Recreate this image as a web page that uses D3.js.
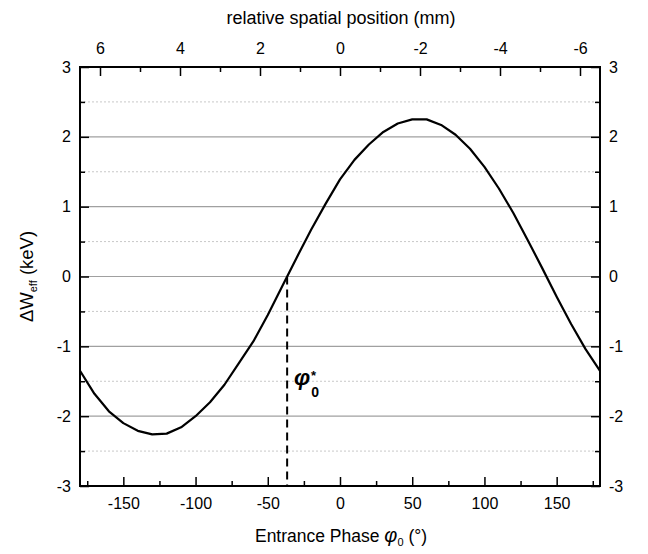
<!DOCTYPE html>
<html>
<head>
<meta charset="utf-8">
<script src="https://cdn.jsdelivr.net/npm/d3@7"></script>
<style>
  html, body { margin: 0; padding: 0; background: #fff; }
  svg { display: block; font-family: "Liberation Sans", Arial, sans-serif; }
</style>
</head>
<body>
<svg id="chart" width="648" height="554"></svg>
<script>
// ---- data ----
const phase = [-180,-170,-160,-150,-140,-130,-120,-110,-100,-90,-80,-70,-60,-50,-40,-30,-20,-10,0,10,20,30,40,50,60,70,80,90,100,110,120,130,140,150,160,170,180];
const deltaW = [-1.35,-1.68,-1.93,-2.10,-2.21,-2.26,-2.25,-2.16,-2.00,-1.80,-1.55,-1.24,-0.93,-0.55,-0.14,0.27,0.67,1.04,1.39,1.67,1.89,2.07,2.19,2.25,2.25,2.17,2.03,1.83,1.57,1.26,0.91,0.52,0.12,-0.29,-0.68,-1.04,-1.35];
const phi0Star = -36.6;
const xTicks = [-150,-100,-50,0,50,100,150];
const xMinorTicks = [-175,-125,-75,-25,25,75,125,175];
const yTicks = [-3,-2,-1,0,1,2,3];
const yMinorTicks = [-2.5,-1.5,-0.5,0.5,1.5,2.5];
const topTicks = [6,4,2,0,-2,-4,-6];
const topMinorTicks = [5,3,1,-1,-3,-5];
const gridMajor = [-2,-1,0,1,2];
const gridMinor = [-2.5,-1.5,-0.5,0.5,1.5,2.5];

// ---- layout ----
const L = 80, R = 600, T = 67, B = 486;
const svg = d3.select("#chart");
const x = d3.scaleLinear().domain([-180,180]).range([L,R]);
const xTop = d3.scaleLinear().domain([6.5,-6.5]).range([L,R]);
const y = d3.scaleLinear().domain([-3,3]).range([B,T]);

// grid
svg.append("g").selectAll("line").data(gridMinor).join("line")
  .attr("x1",L).attr("x2",R).attr("y1",d=>y(d)).attr("y2",d=>y(d))
  .attr("stroke","#c8c8c8").attr("stroke-width",1).attr("stroke-dasharray","2,2");
svg.append("g").selectAll("line").data(gridMajor).join("line")
  .attr("x1",L).attr("x2",R).attr("y1",d=>y(d)).attr("y2",d=>y(d))
  .attr("stroke","#a0a0a0").attr("stroke-width",1.2);

// curve
const line = d3.line().x((d,i)=>x(phase[i])).y(d=>y(d));
svg.append("path").datum(deltaW).attr("d",line)
  .attr("fill","none").attr("stroke","#000").attr("stroke-width",2.2).attr("stroke-linejoin","round");

// dashed marker
svg.append("line")
  .attr("x1",x(phi0Star)).attr("x2",x(phi0Star)).attr("y1",y(0)).attr("y2",y(-3))
  .attr("stroke","#000").attr("stroke-width",2).attr("stroke-dasharray","8,5");

// axes
function styleAxis(g){
  g.select(".domain").remove();
  g.selectAll(".tick line").attr("stroke","#000").attr("stroke-width",1.5);
  g.selectAll("text").attr("font-size",16).attr("fill","#000").attr("font-family","Liberation Sans, Arial, sans-serif");
}
const fmt = d => (d<0 ? "-" + Math.abs(d) : String(d));

svg.append("g").attr("transform",`translate(0,${B})`)
  .call(d3.axisBottom(x).tickValues(xTicks).tickFormat(fmt).tickSizeInner(-9).tickSizeOuter(0).tickPadding(12)).call(styleAxis);
svg.append("g").attr("transform",`translate(0,${B})`)
  .call(d3.axisBottom(x).tickValues(xMinorTicks).tickFormat("").tickSizeInner(-5).tickSizeOuter(0)).call(styleAxis);

svg.append("g").attr("transform",`translate(0,${T})`)
  .call(d3.axisTop(xTop).tickValues(topTicks).tickFormat(fmt).tickSizeInner(-9).tickSizeOuter(0).tickPadding(13)).call(styleAxis);
svg.append("g").attr("transform",`translate(0,${T})`)
  .call(d3.axisTop(xTop).tickValues(topMinorTicks).tickFormat("").tickSizeInner(-5).tickSizeOuter(0)).call(styleAxis);

svg.append("g").attr("transform",`translate(${L},0)`)
  .call(d3.axisLeft(y).tickValues(yTicks).tickFormat(fmt).tickSizeInner(-9).tickSizeOuter(0).tickPadding(9)).call(styleAxis);
svg.append("g").attr("transform",`translate(${L},0)`)
  .call(d3.axisLeft(y).tickValues(yMinorTicks).tickFormat("").tickSizeInner(-5).tickSizeOuter(0)).call(styleAxis);

svg.append("g").attr("transform",`translate(${R},0)`)
  .call(d3.axisRight(y).tickValues(yTicks).tickFormat(fmt).tickSizeInner(-9).tickSizeOuter(0).tickPadding(9)).call(styleAxis);
svg.append("g").attr("transform",`translate(${R},0)`)
  .call(d3.axisRight(y).tickValues(yMinorTicks).tickFormat("").tickSizeInner(-5).tickSizeOuter(0)).call(styleAxis);

// frame
svg.append("rect").attr("x",L).attr("y",T).attr("width",R-L).attr("height",B-T)
  .attr("fill","none").attr("stroke","#000").attr("stroke-width",2);

// titles
svg.append("text").attr("x",(L+R)/2 + 1).attr("y",24).attr("text-anchor","middle")
  .attr("font-size",18).text("relative spatial position (mm)");

const xt = svg.append("text").attr("x",(L+R)/2 + 1).attr("y",542).attr("text-anchor","middle").attr("font-size",17.5);
xt.append("tspan").text("Entrance Phase ");
xt.append("tspan").attr("font-style","italic").attr("font-size",20).text("φ");
xt.append("tspan").attr("font-size",11).attr("dy",4).text("0");
xt.append("tspan").attr("dy",-4).text(" (°)");

const yt = svg.append("text").attr("transform",`translate(33,${(T+B)/2}) rotate(-90)`).attr("text-anchor","middle").attr("font-size",18.5);
yt.append("tspan").text("ΔW");
yt.append("tspan").attr("font-size",11).attr("dy",4).text("eff");
yt.append("tspan").attr("dy",-4).text(" (keV)");

// phi0* label
const pl = svg.append("text").attr("x",294).attr("y",385).attr("font-weight","bold");
pl.append("tspan").attr("font-style","italic").attr("font-size",23).text("φ");
pl.append("tspan").attr("font-size",14).attr("dy",12).attr("dx",1).text("0");
pl.append("tspan").attr("font-size",13).attr("dx",-8).attr("dy",-17).text("*");
</script>
</body>
</html>
